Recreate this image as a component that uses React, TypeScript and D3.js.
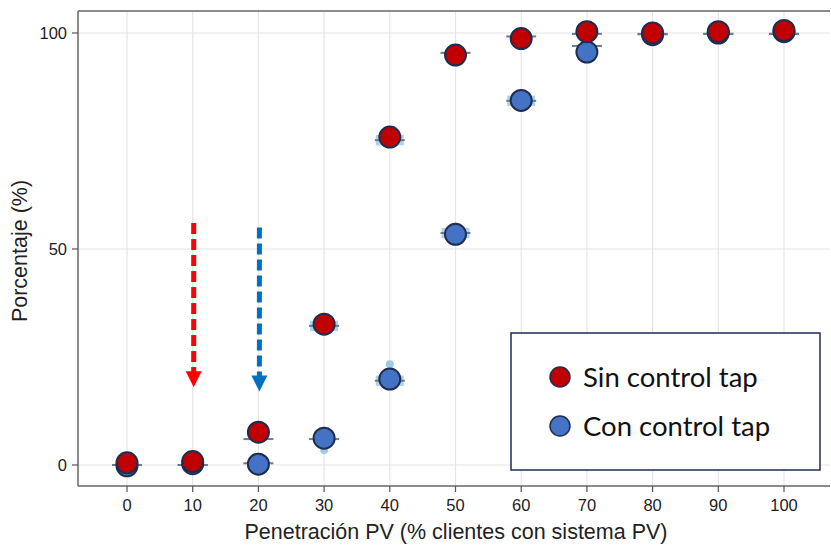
import React from "react";
import * as d3 from "d3";

const penetration = [0, 10, 20, 30, 40, 50, 60, 70, 80, 90, 100];
const sinMean = [0.5, 0.8, 7.6, 32.6, 75.9, 94.9, 98.7, 100.3, 100.0, 100.3, 100.6];
const conMean = [-0.2, 0.3, 0.2, 6.2, 19.9, 53.4, 84.4, 95.6, 99.6, 100.0, 100.3];
const sinMedian = [0, 0, 6.0, 32.2, 75.2, 95.4, 99.2, 99.8, 99.8, 99.8, 99.8];
const conMedian = [0, 0, 0.4, 6.0, 19.5, 53.7, 84.3, 97.0, 99.7, 99.8, 99.8];
const sinBox = [0, 0, 0, 1.2, 1.2, 0, 0, 0, 0, 0, 0];
const conBox = [0, 0, 0, 0, 1.2, 1.2, 1.2, 0, 0, 0, 0];
const conOutliers: [number, number][] = [[30, 3.5], [40, 23.3], [20, -1]];
const xTicks = [0, 10, 20, 30, 40, 50, 60, 70, 80, 90, 100];
const yTicks = [0, 50, 100];
const legendLabels = ["Sin control tap", "Con control tap"];
const arrows = [
  { x: 10, from: 56, to: 18, color: "#ff0000" },
  { x: 20, from: 55, to: 17, color: "#0070c0" },
];

const RED = "#c00000";
const BLUE = "#4472c4";
const STROKE = "#1f2d50";

export default function App() {
  const W = 831, H = 546;
  const x = d3.scaleLinear().domain([0, 100]).range([127, 784]);
  const y = d3.scaleLinear().domain([0, 100]).range([465, 33]);
  const left = 78, top = 11, bottom = 486, right = 830;
  const font = "'Liberation Sans', Arial, Helvetica, sans-serif";

  const boxes = (med: number[], box: number[], key: string) =>
    penetration.map((p, i) => (
      <g key={key + i}>
        {box[i] > 0 && (
          <rect x={x(p) - 14} y={y(med[i] + box[i])} width={28}
            height={y(med[i] - box[i]) - y(med[i] + box[i])} fill="#9ccbe6" opacity={0.85} />
        )}
        <line x1={x(p) - 15} x2={x(p) + 15} y1={y(med[i])} y2={y(med[i])}
          stroke="#6d7b8a" strokeWidth={2} />
      </g>
    ));

  return (
    <svg width={W} height={H} style={{ position: "absolute", left: 0, top: 0 }}>
      <rect width={W} height={H} fill="#fff" />
      {xTicks.map((t) => (
        <line key={"gx" + t} x1={x(t)} x2={x(t)} y1={top} y2={bottom} stroke="#e6e6e6" strokeWidth={1.2} />
      ))}
      {yTicks.map((t) => (
        <line key={"gy" + t} x1={left} x2={right} y1={y(t)} y2={y(t)} stroke="#e6e6e6" strokeWidth={1.2} />
      ))}
      <line x1={left} x2={right} y1={top} y2={top} stroke="#666" strokeWidth={1.5} />
      <line x1={left} x2={left} y1={top} y2={bottom} stroke="#666" strokeWidth={1.5} />
      <line x1={left} x2={right} y1={bottom} y2={bottom} stroke="#666" strokeWidth={1.5} />
      {yTicks.map((t) => (
        <g key={"ty" + t}>
          <line x1={left - 6} x2={left} y1={y(t)} y2={y(t)} stroke="#555" strokeWidth={1.2} />
          <text x={left - 11} y={y(t) + 6} textAnchor="end" fontFamily={font} fontSize={16.5} fill="#222">{t}</text>
        </g>
      ))}
      {xTicks.map((t) => (
        <g key={"tx" + t}>
          <line x1={x(t)} x2={x(t)} y1={bottom} y2={bottom + 6} stroke="#555" strokeWidth={1.2} />
          <text x={x(t)} y={bottom + 25} textAnchor="middle" fontFamily={font} fontSize={16.5} fill="#222">{t}</text>
        </g>
      ))}
      <text x={456} y={539} textAnchor="middle" fontFamily={font} fontSize={21.5} fill="#222">
        Penetración PV (% clientes con sistema PV)
      </text>
      <text transform={`translate(27,${y(50) + 2}) rotate(-90)`} textAnchor="middle" fontFamily={font} fontSize={21.5} fill="#222">
        Porcentaje (%)
      </text>
      {boxes(conMedian, conBox, "cb")}
      {boxes(sinMedian, sinBox, "sb")}
      {conOutliers.map(([p, v], i) => (
        <circle key={"o" + i} cx={x(p)} cy={y(v)} r={4} fill="#9ccbe6" />
      ))}
      {penetration.map((p, i) => (
        <circle key={"c" + i} cx={x(p)} cy={y(conMean[i])} r={10.5} fill={BLUE} stroke={STROKE} strokeWidth={2} />
      ))}
      {penetration.map((p, i) => (
        <circle key={"s" + i} cx={x(p)} cy={y(sinMean[i])} r={10.5} fill={RED} stroke={STROKE} strokeWidth={2} />
      ))}
      {arrows.map((a, i) => {
        const ax = x(a.x) + 1;
        const tip = y(a.to);
        return (
          <g key={"a" + i}>
            <line x1={ax} x2={ax} y1={y(a.from)} y2={tip - 14} stroke={a.color} strokeWidth={5} strokeDasharray="11 5" />
            <path d={`M${ax - 8},${tip - 16} L${ax + 8},${tip - 16} L${ax},${tip} Z`} fill={a.color} />
          </g>
        );
      })}
      <rect x={511} y={333} width={309} height={137} fill="#fff" stroke={STROKE} strokeWidth={1.5} />
      {legendLabels.map((l, i) => (
        <g key={"l" + i}>
          <circle cx={560} cy={377 + i * 49} r={10} fill={i === 0 ? RED : BLUE} stroke={STROKE} strokeWidth={1.5} />
          <text x={583} y={387 + i * 49} fontFamily="Lato, 'Open Sans', sans-serif" fontSize={27.5} fill="#111">{l}</text>
        </g>
      ))}
    </svg>
  );
}
